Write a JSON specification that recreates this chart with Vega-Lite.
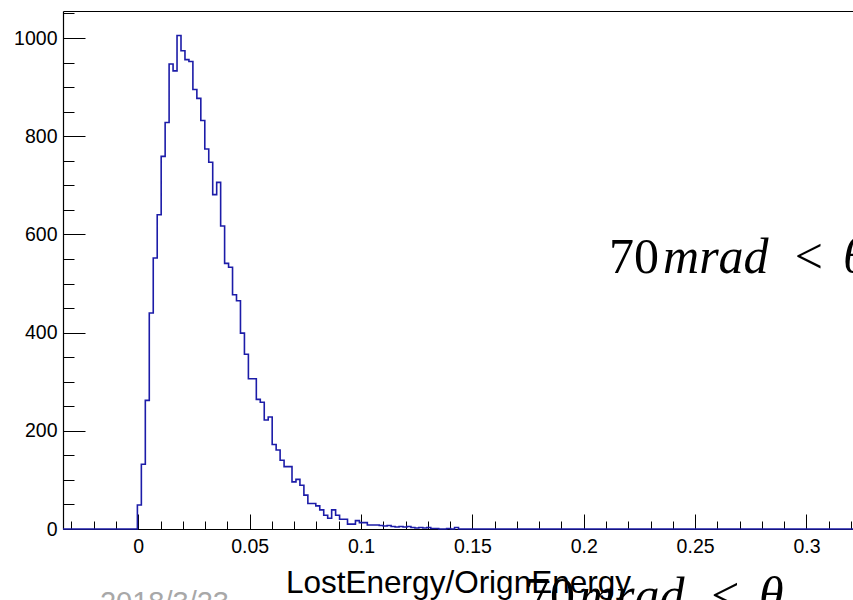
{
  "$schema": "https://vega.github.io/schema/vega-lite/v6.json",
  "width": 790,
  "height": 518,
  "autosize": {"type": "none"},
  "padding": {"left": 63, "top": 11, "right": 0, "bottom": 71},
  "background": "white",
  "config": {"view": {"stroke": null}, "font": "Liberation Sans"},
  "datasets": {
    "hist": [
      {"x": -0.0338, "n": 0},
      {"x": -0.0004, "n": 49},
      {"x": 0.00138, "n": 132},
      {"x": 0.00316, "n": 262},
      {"x": 0.00494, "n": 440},
      {"x": 0.00672, "n": 552},
      {"x": 0.0085, "n": 640},
      {"x": 0.01028, "n": 759},
      {"x": 0.01206, "n": 828},
      {"x": 0.01384, "n": 947},
      {"x": 0.01562, "n": 933},
      {"x": 0.0174, "n": 1005},
      {"x": 0.01918, "n": 974},
      {"x": 0.02096, "n": 956},
      {"x": 0.02274, "n": 952},
      {"x": 0.02452, "n": 895},
      {"x": 0.0263, "n": 877},
      {"x": 0.02808, "n": 832},
      {"x": 0.02986, "n": 774},
      {"x": 0.03164, "n": 747},
      {"x": 0.03342, "n": 681},
      {"x": 0.0352, "n": 706},
      {"x": 0.03698, "n": 617},
      {"x": 0.03876, "n": 541},
      {"x": 0.04054, "n": 533},
      {"x": 0.04232, "n": 477},
      {"x": 0.0441, "n": 465},
      {"x": 0.04588, "n": 399},
      {"x": 0.04766, "n": 356},
      {"x": 0.04944, "n": 306},
      {"x": 0.05122, "n": 306},
      {"x": 0.053, "n": 264},
      {"x": 0.05478, "n": 258},
      {"x": 0.05656, "n": 222},
      {"x": 0.05834, "n": 228},
      {"x": 0.06012, "n": 172},
      {"x": 0.0619, "n": 161},
      {"x": 0.06368, "n": 140},
      {"x": 0.06546, "n": 127},
      {"x": 0.06724, "n": 127},
      {"x": 0.06902, "n": 96},
      {"x": 0.0708, "n": 101},
      {"x": 0.07258, "n": 89},
      {"x": 0.07436, "n": 69},
      {"x": 0.07614, "n": 52},
      {"x": 0.07792, "n": 52},
      {"x": 0.0797, "n": 47},
      {"x": 0.08148, "n": 39},
      {"x": 0.08326, "n": 28},
      {"x": 0.08504, "n": 22},
      {"x": 0.08682, "n": 39},
      {"x": 0.0886, "n": 28},
      {"x": 0.09038, "n": 20},
      {"x": 0.09216, "n": 20},
      {"x": 0.09394, "n": 10},
      {"x": 0.09572, "n": 10},
      {"x": 0.0975, "n": 17},
      {"x": 0.09928, "n": 13},
      {"x": 0.10106, "n": 13},
      {"x": 0.10284, "n": 8},
      {"x": 0.10462, "n": 8},
      {"x": 0.1064, "n": 8},
      {"x": 0.10818, "n": 7},
      {"x": 0.10996, "n": 6},
      {"x": 0.11174, "n": 7},
      {"x": 0.11352, "n": 5},
      {"x": 0.1153, "n": 4},
      {"x": 0.11708, "n": 5},
      {"x": 0.11886, "n": 4},
      {"x": 0.12064, "n": 5},
      {"x": 0.12242, "n": 3},
      {"x": 0.1242, "n": 2},
      {"x": 0.12598, "n": 3},
      {"x": 0.12776, "n": 2},
      {"x": 0.12954, "n": 3},
      {"x": 0.13132, "n": 1},
      {"x": 0.1331, "n": 1},
      {"x": 0.13488, "n": 0},
      {"x": 0.13666, "n": 0},
      {"x": 0.13844, "n": 1},
      {"x": 0.14022, "n": 0},
      {"x": 0.142, "n": 3},
      {"x": 0.14378, "n": 0},
      {"x": 0.3209, "n": 0}
    ],
    "up": [
      {"x": 0.2114, "y": 520.6, "t": "70"},
      {"x": 0.2948, "y": 520.6, "t": "<"},
      {"x": 0.1736, "y": -169.6, "t": "70"},
      {"x": 0.2572, "y": -169.6, "t": "<"}
    ],
    "it": [
      {"x": 0.2356, "y": 520.6, "t": "mrad"},
      {"x": 0.3164, "y": 520.6, "t": "θ"},
      {"x": 0.1978, "y": -169.6, "t": "mrad"},
      {"x": 0.2787, "y": -169.6, "t": "θ"}
    ],
    "date": [
      {"x": -0.0172, "y": -170, "t": "2018/3/23"}
    ]
  },
  "resolve": {"axis": {"x": "independent", "y": "independent"}},
  "layer": [
    {
      "data": {"name": "hist"},
      "mark": {"type": "line", "interpolate": "step-after", "color": "#1c1ca8", "strokeWidth": 1.6},
      "encoding": {
        "x": {
          "field": "x",
          "type": "quantitative",
          "scale": {"domain": [-0.0338, 0.3209], "nice": false, "zero": false},
          "axis": {
            "orient": "bottom",
            "values": [-0.03, -0.02, -0.01, 0, 0.01, 0.02, 0.03, 0.04, 0.05, 0.06, 0.07, 0.08, 0.09, 0.1, 0.11, 0.12, 0.13, 0.14, 0.15, 0.16, 0.17, 0.18, 0.19, 0.2, 0.21, 0.22, 0.23, 0.24, 0.25, 0.26, 0.27, 0.28, 0.29, 0.3, 0.31, 0.32],
            "format": "~g",
            "labelExpr": "abs(datum.value*20 - round(datum.value*20)) < 1e-6 ? datum.label : ''",
            "tickSize": {"condition": {"test": "abs(datum.value*20 - round(datum.value*20)) < 1e-6", "value": -15}, "value": -8},
            "labelPadding": 23,
            "tickColor": "black",
            "tickWidth": 1,
            "domainColor": "black",
            "domainWidth": 1.2,
            "labelFontSize": 19.5,
            "labelFont": "Liberation Sans",
            "labelColor": "black",
            "labelOverlap": false,
            "labelFlush": false,
            "grid": false,
            "title": "LostEnergy/OrignEnergy",
            "titleFont": "Liberation Sans",
            "titleFontSize": 31.5,
            "titleFontWeight": "normal",
            "titleColor": "black",
            "titlePadding": 5
          }
        },
        "y": {
          "field": "n",
          "type": "quantitative",
          "scale": {"domain": [0, 1055], "nice": false, "zero": true},
          "axis": {
            "orient": "left",
            "values": [0, 50, 100, 150, 200, 250, 300, 350, 400, 450, 500, 550, 600, 650, 700, 750, 800, 850, 900, 950, 1000, 1050],
            "format": "d",
            "labelExpr": "datum.value % 200 === 0 ? datum.label : ''",
            "tickSize": {"condition": {"test": "datum.value % 200 === 0", "value": -22}, "value": -11},
            "labelPadding": 28,
            "tickColor": "black",
            "tickWidth": 1,
            "domainColor": "black",
            "domainWidth": 1.2,
            "labelFontSize": 19.5,
            "labelFont": "Liberation Sans",
            "labelColor": "black",
            "labelOverlap": false,
            "labelFlush": false,
            "grid": false,
            "title": null
          }
        }
      }
    },
    {
      "data": {"name": "up"},
      "mark": {"type": "text", "align": "left", "baseline": "alphabetic", "font": "Liberation Serif", "fontSize": 50, "color": "black"},
      "encoding": {
        "x": {
          "field": "x",
          "type": "quantitative",
          "axis": {"orient": "top", "labels": false, "ticks": false, "title": null, "grid": false, "domainColor": "black", "domainWidth": 1.2}
        },
        "y": {"field": "y", "type": "quantitative", "axis": null},
        "text": {"field": "t"}
      }
    },
    {
      "data": {"name": "it"},
      "mark": {"type": "text", "align": "left", "baseline": "alphabetic", "font": "Liberation Serif", "fontStyle": "italic", "fontSize": 50, "color": "black"},
      "encoding": {
        "x": {"field": "x", "type": "quantitative", "axis": null},
        "y": {"field": "y", "type": "quantitative", "axis": null},
        "text": {"field": "t"}
      }
    },
    {
      "data": {"name": "date"},
      "mark": {"type": "text", "align": "left", "baseline": "alphabetic", "font": "Liberation Sans", "fontSize": 29, "color": "#a8a8a8"},
      "encoding": {
        "x": {"field": "x", "type": "quantitative", "axis": null},
        "y": {"field": "y", "type": "quantitative", "axis": null},
        "text": {"field": "t"}
      }
    }
  ]
}
